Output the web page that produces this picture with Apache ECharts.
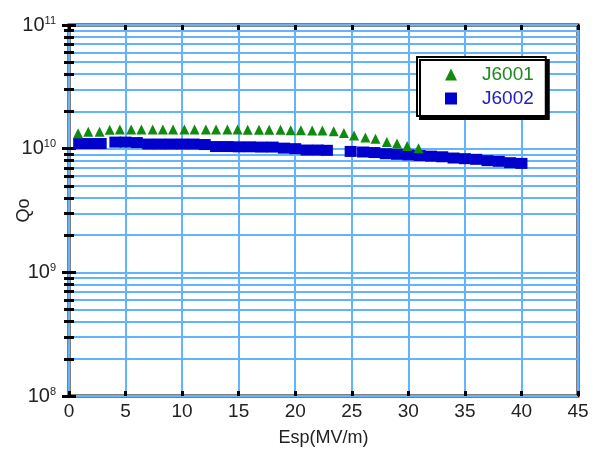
<!DOCTYPE html>
<html>
<head>
<meta charset="utf-8">
<script src="https://cdn.jsdelivr.net/npm/echarts@6/dist/echarts.min.js"></script>
<style>
  html, body { margin: 0; padding: 0; background: #fff; }
  #chart { width: 595px; height: 450px; }
</style>
</head>
<body>
<div id="chart"></div>
<script>
// Q0 vs Esp
var j6001X = [0.8, 1.7, 2.7, 3.6, 4.5, 5.5, 6.4, 7.4, 8.3, 9.2, 10.2, 11.1, 12.1, 13.0, 14.0, 14.9, 15.8,
  16.8, 17.7, 18.7, 19.6, 20.5, 21.5, 22.4, 23.4, 24.3, 25.2, 26.2, 27.1, 28.1, 29.0, 29.9, 30.9];
var j6001Q = [1.33e10, 1.37e10, 1.37e10, 1.42e10, 1.43e10, 1.43e10, 1.43e10, 1.43e10, 1.43e10, 1.43e10,
  1.43e10, 1.43e10, 1.43e10, 1.43e10, 1.43e10, 1.43e10, 1.42e10, 1.42e10, 1.42e10, 1.42e10, 1.41e10,
  1.41e10, 1.40e10, 1.40e10, 1.38e10, 1.34e10, 1.28e10, 1.23e10, 1.20e10, 1.13e10, 1.10e10, 1.05e10, 1.01e10];

var j6002X = [0.9, 1.9, 2.8, 4.1, 5, 6, 7, 8, 9, 10, 11, 12, 13, 14, 15, 16, 17, 18, 19, 20, 21, 22, 22.8,
  24.9, 26, 27, 28, 29, 30, 31, 32, 33, 34, 35, 36, 37, 38, 39, 40];
var j6002Q = [1.10e10, 1.10e10, 1.10e10, 1.13e10, 1.13e10, 1.12e10, 1.09e10, 1.09e10, 1.09e10, 1.09e10,
  1.09e10, 1.08e10, 1.04e10, 1.04e10, 1.035e10, 1.035e10, 1.03e10, 1.03e10, 1.01e10, 1.0e10, 0.975e10,
  0.975e10, 0.97e10, 0.95e10, 0.94e10, 0.93e10, 0.91e10, 0.90e10, 0.89e10, 0.88e10, 0.87e10, 0.86e10,
  0.84e10, 0.83e10, 0.82e10, 0.80e10, 0.79e10, 0.77e10, 0.76e10];

var seriesNames = ['J6001', 'J6002'];
var xTicks = [0, 45, 5];      // min, max, step
var yRange = [1e8, 1e11];

function pairs(xs, ys) {
  var out = [];
  for (var i = 0; i < xs.length; i++) out.push([xs[i], ys[i]]);
  return out;
}

var gridBlue = '#62b4ff';
var textColor = '#222';

var chart = echarts.init(document.getElementById('chart'));

var option = {
  animation: false,
  backgroundColor: '#fff',
  grid: {
    left: 69, right: 17, top: 25, bottom: 54,
    outerBoundsMode: 'none', containLabel: false,
    show: true, borderColor: '#000', borderWidth: 3
  },
  legend: {
    orient: 'vertical',
    left: 417, top: 57,
    data: [
      { name: seriesNames[0], textStyle: { color: '#1f881f' } },
      { name: seriesNames[1], textStyle: { color: '#2020c8' } }
    ],
    itemWidth: 12, itemHeight: 12, itemGap: 5,
    padding: [8, 12, 8, 28],
    backgroundColor: '#fff',
    borderColor: '#000', borderWidth: 2,
    shadowColor: '#000', shadowOffsetX: 3, shadowOffsetY: 3, shadowBlur: 0,
    textStyle: { fontFamily: 'Liberation Sans', fontSize: 19, lineHeight: 17, padding: [0, 0, 0, 20] }
  },
  xAxis: [{
    type: 'value',
    min: xTicks[0], max: xTicks[1], interval: xTicks[2],
    name: 'Esp(MV/m)', nameLocation: 'middle', nameGap: 33,
    nameTextStyle: { fontFamily: 'Liberation Sans', fontSize: 18, color: textColor },
    axisLine: { show: false },
    axisTick: { show: true, inside: true, length: 5, lineStyle: { color: '#000', width: 3 } },
    axisLabel: { margin: 6, fontFamily: 'Liberation Sans', fontSize: 19, color: textColor },
    splitLine: { show: true, lineStyle: { color: gridBlue, width: 2 } }
  }, {
    type: 'value', position: 'top',
    min: xTicks[0], max: xTicks[1], interval: xTicks[2],
    axisLine: { show: false },
    axisTick: { show: true, inside: true, length: 5, lineStyle: { color: '#000', width: 3 } },
    axisLabel: { show: false },
    splitLine: { show: false }
  }],
  yAxis: [{
    type: 'log', logBase: 10,
    min: yRange[0], max: yRange[1],
    name: 'Qo', nameLocation: 'middle', nameGap: 36, nameMoveOverlap: false,
    nameTextStyle: { fontFamily: 'Liberation Sans', fontSize: 18, color: textColor },
    axisLine: { show: false },
    axisTick: { show: true, inside: true, length: 7, lineStyle: { color: '#000', width: 3 } },
    minorTick: { show: true, splitNumber: 9, length: 5, lineStyle: { color: '#000', width: 3 } },
    axisLabel: {
      margin: 13,
      formatter: function (v) {
        return '{b|10}{s|' + Math.round(Math.log10(v)) + '}';
      },
      rich: {
        b: { fontFamily: 'Liberation Sans', fontSize: 20, color: textColor, lineHeight: 20 },
        s: { fontFamily: 'Liberation Sans', fontSize: 11, color: textColor, verticalAlign: 'top', lineHeight: 12 }
      }
    },
    splitLine: { show: true, lineStyle: { color: gridBlue, width: 2 } },
    minorSplitLine: { show: true, lineStyle: { color: gridBlue, width: 2 } }
  }, {
    type: 'log', logBase: 10, position: 'right',
    min: yRange[0], max: yRange[1],
    axisLine: { show: false },
    axisTick: { show: true, inside: true, length: 7, lineStyle: { color: '#000', width: 3 } },
    minorTick: { show: true, splitNumber: 9, length: 5, lineStyle: { color: '#000', width: 3 } },
    axisLabel: { show: false },
    splitLine: { show: false }
  }],
  series: [{
    name: seriesNames[0],
    type: 'scatter',
    symbol: 'triangle', symbolSize: 10,
    itemStyle: { color: '#118a11', opacity: 1 },
    data: pairs(j6001X, j6001Q),
    z: 3
  }, {
    name: seriesNames[1],
    type: 'scatter',
    symbol: 'rect', symbolSize: [12, 11],
    itemStyle: { color: '#0000cc', opacity: 1 },
    data: pairs(j6002X, j6002Q),
    z: 2
  }]
};

chart.setOption(option);
</script>
</body>
</html>
